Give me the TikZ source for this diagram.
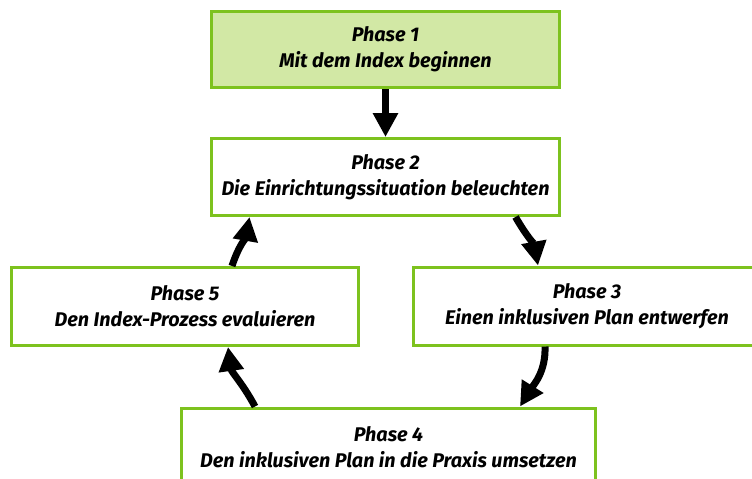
\documentclass[tikz,border=0pt]{standalone}
\usepackage{fontspec}
\setmainfont{Fira Sans}
\usetikzlibrary{arrows.meta}
\definecolor{bordergreen}{HTML}{7DC21E}
\definecolor{fillgreen}{HTML}{D2E8A5}
\tikzset{
  phasebox/.style={draw=bordergreen, line width=3pt, fill=white, rectangle,
    align=center, inner sep=0pt, font=\fontsize{19.8}{26}\selectfont\bfseries\itshape},
  flowarrow/.style={line width=7pt, -{Triangle[width=24pt,length=24pt]}, black},
}
\begin{document}
\begin{tikzpicture}[x=1pt,y=-1pt]
\useasboundingbox (0,0) rectangle (752,479);
\node[phasebox, fill=fillgreen, minimum width=348pt, minimum height=76pt] (p1) at (385.5,49.5) {Phase 1\\Mit dem Index beginnen};
\node[phasebox, minimum width=348pt, minimum height=77pt] (p2) at (385.5,177) {Phase 2\\Die Einrichtungssituation beleuchten};
\node[phasebox, minimum width=347pt, minimum height=78pt] (p3) at (587,306) {Phase 3\\Einen inklusiven Plan entwerfen};
\node[phasebox, minimum width=347pt, minimum height=78pt] (p5) at (185,306.5) {Phase 5\\Den Index-Prozess evaluieren};
\node[phasebox, minimum width=414pt, minimum height=78pt] (p4) at (388.5,447) {Phase 4\\Den inklusiven Plan in die Praxis umsetzen};
\draw[flowarrow] (p1.south) -- (p2.north);
\draw[flowarrow] ([xshift=130pt]p2.south) to[out=-60, in=100] ([xshift=-49pt]p3.north);
\draw[flowarrow] ([xshift=-42pt]p3.south) to[out=-88, in=58] ([xshift=131.5pt]p4.north);
\draw[flowarrow] ([xshift=-133.5pt]p4.north) to[out=118, in=-82] ([xshift=43pt]p5.south);
\draw[flowarrow] ([xshift=47pt]p5.north) to[out=72, in=-100] ([xshift=-136pt]p2.south);
\end{tikzpicture}
\end{document}
